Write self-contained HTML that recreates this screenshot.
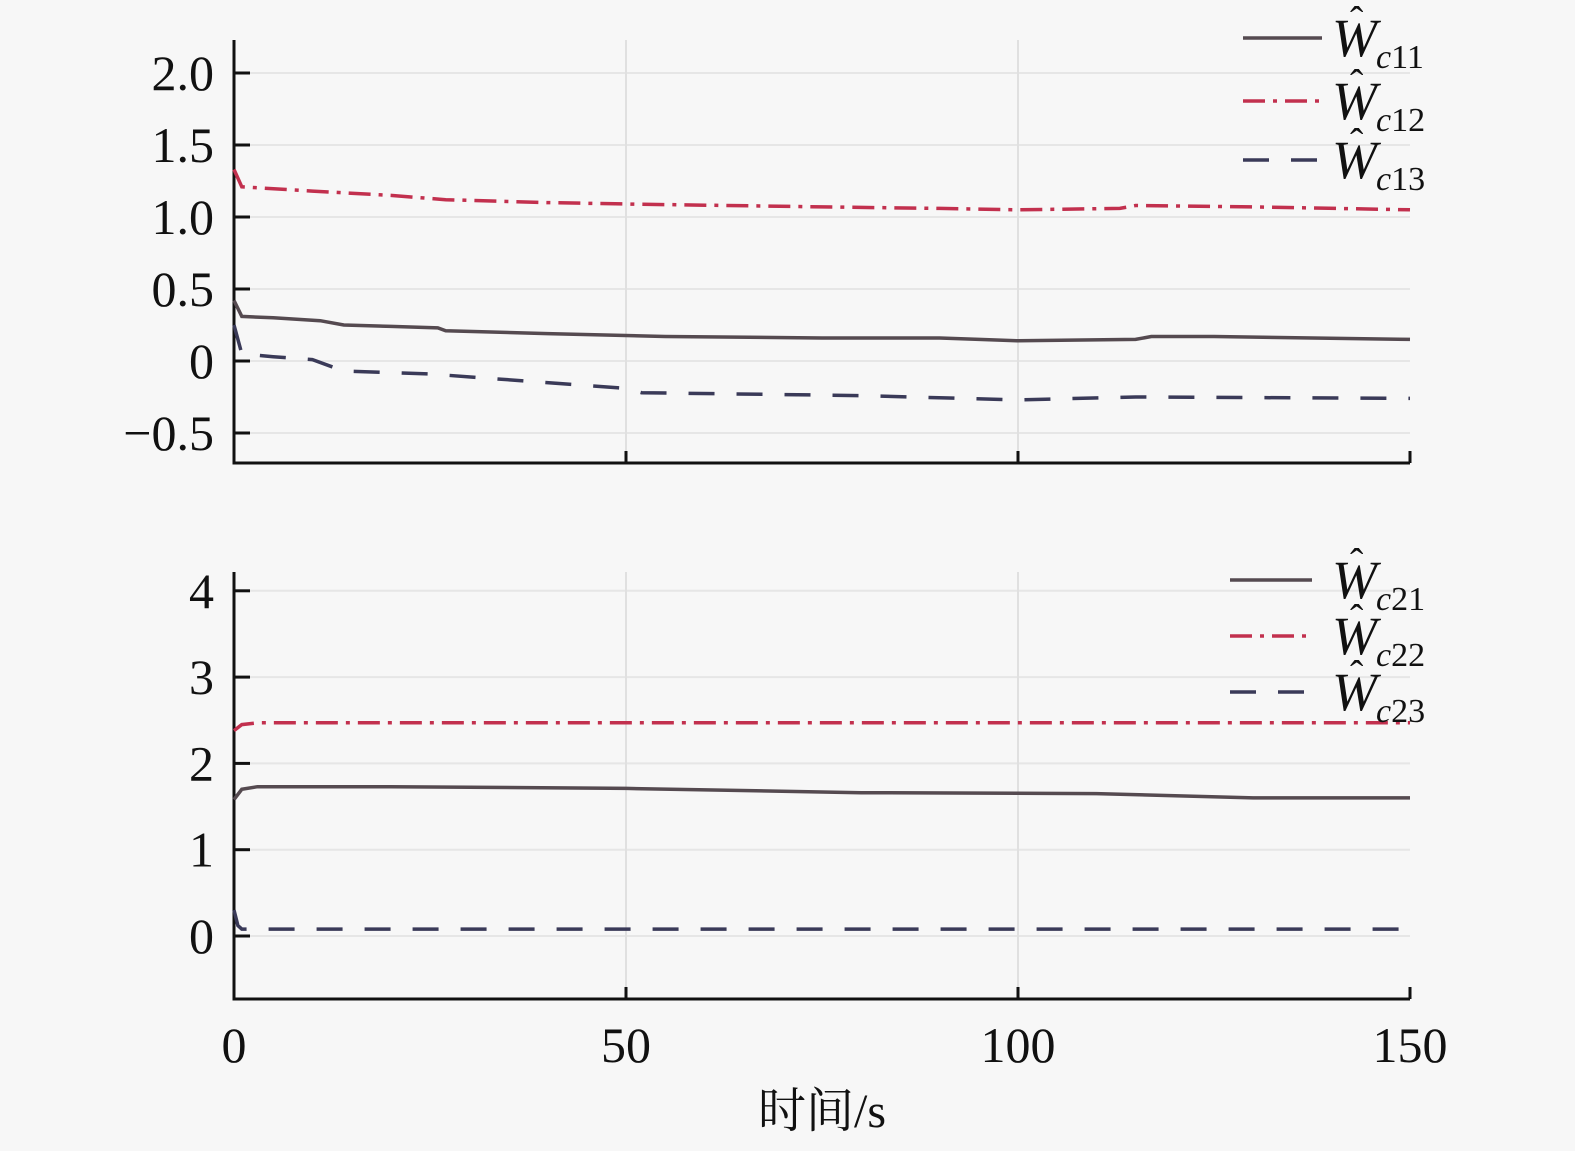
<!DOCTYPE html>
<html><head><meta charset="utf-8"><style>
html,body{margin:0;padding:0;background:#f7f7f7;}
svg{display:block;}
text{font-family:"Liberation Serif","Noto Serif CJK SC",serif;fill:#111;}
</style></head><body>
<svg id="chart" width="1575" height="1151" xmlns="http://www.w3.org/2000/svg"></svg>
<script>
const xTicks=[0,50,100,150];
const xTickLabels=["0","50","100","150"];
const topYTicks=[2.0,1.5,1.0,0.5,0,-0.5];
const topYTickLabels=["2.0","1.5","1.0","0.5","0","\u22120.5"];
const botYTicks=[4,3,2,1,0];
const botYTickLabels=["4","3","2","1","0"];
const t11=[0,1,5,11,14,20,26,27,40,55,75,90,95,100,115,117,125,150];
const w11=[0.42,0.31,0.30,0.28,0.25,0.24,0.23,0.21,0.19,0.17,0.16,0.16,0.15,0.14,0.15,0.17,0.17,0.15];
const t12=[0,1,10,20,27,40,50,75,90,100,113,115,130,150];
const w12=[1.33,1.21,1.18,1.15,1.12,1.10,1.09,1.07,1.06,1.05,1.06,1.08,1.07,1.05];
const t13=[0,1,5,10,14,25,50,52,80,100,115,150];
const w13=[0.25,0.05,0.03,0.01,-0.07,-0.09,-0.19,-0.22,-0.24,-0.27,-0.25,-0.26];
const t21=[0,1,3,20,50,80,110,130,150];
const w21=[1.58,1.70,1.73,1.73,1.71,1.66,1.65,1.60,1.60];
const t22=[0,1,3,150];
const w22=[2.38,2.45,2.47,2.47];
const t23=[0,0.5,1,149];
const w23=[0.3,0.12,0.08,0.08];

const NS="http://www.w3.org/2000/svg";
const svg=document.getElementById('chart');
function mk(tag,attrs,parent){const e=document.createElementNS(NS,tag);for(const k in attrs)e.setAttribute(k,attrs[k]);(parent||svg).appendChild(e);return e;}
const X=t=>234+t*(1410-234)/150;
const Ytop=v=>361-v*144;
const Ybot=v=>936-v*86.3;

function panel(name,Y,yTicks,yLabels,yTopPx,yBotPx){
  const g=mk('g',{});
  
  
  yTicks.forEach((v,i)=>{
    const gl=mk('line',{x1:240,x2:1410,y1:Y(v),y2:Y(v),stroke:'#e6e6e6','stroke-width':2},g);
    
    
    const tk=mk('line',{x1:234,x2:250,y1:Y(v),y2:Y(v),stroke:'#111','stroke-width':3},g);
    
    
    const tx=mk('text',{x:214,y:Y(v)+17,'font-size':50,'text-anchor':'end'},g);
    tx.textContent=yLabels[i];
    
    
  });
  xTicks.forEach(v=>{
    if(v>0&&v<150){
      const gl=mk('line',{x1:X(v),x2:X(v),y1:yTopPx,y2:yBotPx,stroke:'#e0e0e0','stroke-width':2},g);
      
      
    }
    const tk=mk('line',{x1:X(v),x2:X(v),y1:yBotPx-12,y2:yBotPx,stroke:'#111','stroke-width':3},g);
    
    
  });
  const ax=mk('path',{d:`M234 ${yTopPx} V${yBotPx} H1410`,stroke:'#111','stroke-width':3,fill:'none'},g);
  
  
  return g;
}
panel('top-panel',Ytop,topYTicks,topYTickLabels,40,463);
panel('bottom-panel',Ybot,botYTicks,botYTickLabels,572,999);

function series(name,ts,vs,Y,color,dash){
  const d=ts.map((t,i)=>(i?'L':'M')+X(t).toFixed(1)+' '+Y(vs[i]).toFixed(1)).join(' ');
  const p=mk('path',{d:d,stroke:color,'stroke-width':3.5,fill:'none','stroke-dasharray':dash||'none'});
  
  
}
const cSolid='#554a50', cDashDot='#c2304e', cDash='#3a3a58';
const dd='22 8 4 8', ds='26 22';
series('series-wc11',t11,w11,Ytop,cSolid);
series('series-wc12',t12,w12,Ytop,cDashDot,dd);
series('series-wc13',t13,w13,Ytop,cDash,ds);
series('series-wc21',t21,w21,Ybot,cSolid);
series('series-wc22',t22,w22,Ybot,cDashDot,dd);
series('series-wc23',t23,w23,Ybot,cDash,ds);

function legend(name,x1,x2,ys,labels,colors,dashes,tx){
  const g=mk('g',{});
  
  
  ys.forEach((y,i)=>{
    const l=mk('line',{x1:x1,x2:x2,y1:y,y2:y,stroke:colors[i],'stroke-width':3.5,'stroke-dasharray':dashes[i]||'none'},g);
    
    
    const t=mk('text',{x:tx,y:y+18,'font-size':54,'font-style':'italic'},g);
    
    
    t.textContent='W';
    const hat=mk('text',{x:tx+18,y:y-4,'font-size':40},g);
    hat.textContent='\u02C6';
    
    
    const s=mk('text',{x:tx+44,y:y+30,'font-size':34},g);
    
    
    s.innerHTML='<tspan font-style="italic">c</tspan>'+labels[i];
  });
}
legend('top-legend',1243,1322,[38,101,160],['11','12','13'],[cSolid,cDashDot,cDash],['','22 8 4 8','26 22'],1332);
legend('bottom-legend',1230,1312,[580,636,692],['21','22','23'],[cSolid,cDashDot,cDash],['','22 8 4 8','26 22'],1332);

xTicks.forEach((v,i)=>{
  const t=mk('text',{x:X(v),y:1062,'font-size':50,'text-anchor':'middle'});
  t.textContent=xTickLabels[i];
  
  
});
const xl=mk('text',{x:822,y:1127,'font-size':48,'text-anchor':'middle'});
xl.textContent='时间/s';


</script>
</body></html>
